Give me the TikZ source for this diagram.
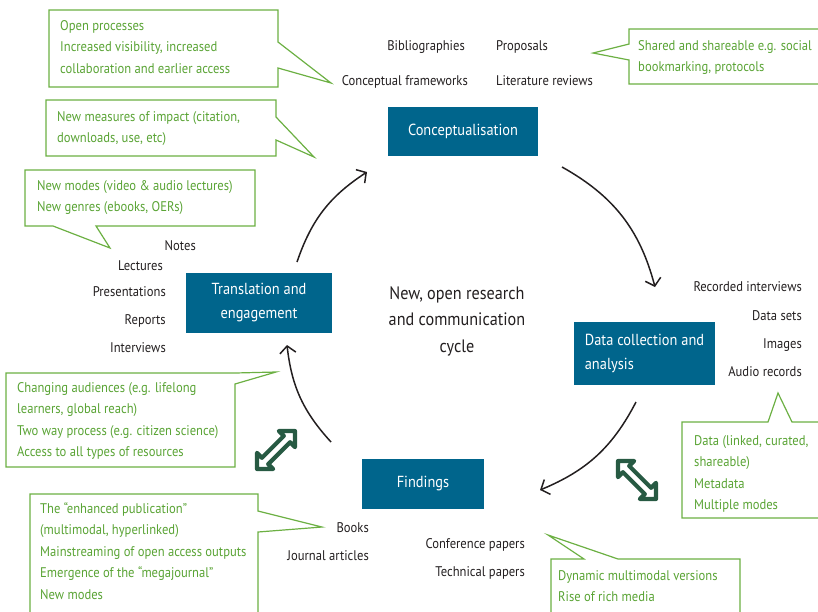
\documentclass[tikz,border=0pt]{standalone}
\usepackage{fontspec}
\setmainfont{PT Sans}[FakeStretch=0.9]
\usetikzlibrary{arrows.meta}
\definecolor{boxblue}{HTML}{00658C}
\definecolor{callgreen}{HTML}{6CB043}
\definecolor{textgreen}{HTML}{5AA435}
\definecolor{labelgray}{HTML}{231F20}
\definecolor{icongreen}{HTML}{275A43}
\tikzset{
  stage/.style={fill=boxblue, text=white, font=\fontsize{16}{24}\selectfont, align=center, inner sep=0pt},
  item/.style={text=labelgray, font=\fontsize{14}{17}\selectfont, inner sep=0pt},
  callout/.style={draw=callgreen, line width=1.2pt, fill=white},
  note/.style={text=textgreen, font=\fontsize{14}{21.5}\selectfont, align=left, inner sep=0pt, anchor=base west},
  cycle arrow/.style={-{Straight Barb[length=7pt,width=16pt]}, line width=1.5pt, labelgray},
  swap arrow/.style={draw=icongreen, fill=white, line width=4.2pt, line join=round}
}
\begin{document}
\begin{tikzpicture}[x=1pt, y=-1pt]
  \clip (0,0) rectangle (818,611);
  % Stufen des Zyklus
  \node[stage, minimum width=150pt, minimum height=49pt] (concept) at (463,131.5) {Conceptualisation};
  \node[stage, minimum width=141pt, minimum height=63pt, align=left] (data) at (644.5,353.5) {Data collection and\\analysis};
  \node[stage, minimum width=122pt, minimum height=50pt] (findings) at (423,484) {Findings};
  \node[stage, minimum width=146pt, minimum height=60pt] (trans) at (259,303) {Translation and\\engagement};
  \node[text=labelgray, font=\fontsize{18}{26.5}\selectfont, align=center] (cyclelabel) at (457,321) {New, open research\\and communication\\cycle};
  % Pfeile im Kreis
  \coordinate (trans out) at (297,262);
  \coordinate (concept in) at (367,172);
  \coordinate (concept out) at (562,167);
  \coordinate (data in) at (655,287);
  \coordinate (data out) at (636,402);
  \coordinate (findings in) at (540,490);
  \coordinate (findings out) at (331,442);
  \coordinate (trans in) at (287,345);
  \draw[cycle arrow] (trans out) to[bend left=19] (concept in);
  \draw[cycle arrow] (concept out) to[bend left=23] (data in);
  \draw[cycle arrow] (data out) to[bend left=20] (findings in);
  \draw[cycle arrow] (findings out) to[bend left=18] (trans in);
  % Ergebnisse an den Stufen
  \node[item, anchor=base east] (biblio) at (465,50) {Bibliographies};
  \node[item, anchor=base west] (proposals) at (496,50) {Proposals};
  \node[item, anchor=base east] (frameworks) at (468,85) {Conceptual frameworks};
  \node[item, anchor=base west] (reviews) at (496,85) {Literature reviews};
  \node[item, anchor=base east] (notes) at (196,250) {Notes};
  \node[item, anchor=base east] (lectures) at (163,270) {Lectures};
  \node[item, anchor=base east] (presentations) at (166,296) {Presentations};
  \node[item, anchor=base east] (reports) at (166,324) {Reports};
  \node[item, anchor=base east] (interviews) at (166,352) {Interviews};
  \node[item, anchor=base east] (recorded) at (802,291) {Recorded interviews};
  \node[item, anchor=base east] (datasets) at (802,320) {Data sets};
  \node[item, anchor=base east] (images) at (802,348) {Images};
  \node[item, anchor=base east] (audio) at (802,376) {Audio records};
  \node[item, anchor=base east] (books) at (369,532) {Books};
  \node[item, anchor=base east] (journals) at (369,560) {Journal articles};
  \node[item, anchor=base east] (conference) at (525,548) {Conference papers};
  \node[item, anchor=base east] (technical) at (525,576) {Technical papers};
  % Sprechblasen (Anker auf der letzten Zeile)
  \draw[callout] (49,10) -- (278,10) -- (278,42) -- (331,83) -- (278,68) -- (278,87) -- (49,87) -- cycle;
  \node[note] (openproc) at (60,73) {Open processes\\Increased visibility, increased\\collaboration and earlier access};
  \draw[callout] (46,100) -- (276,100) -- (276,117) -- (314,157) -- (276,140) -- (276,156) -- (46,156) -- cycle;
  \node[note] (impact) at (57,142.5) {New measures of impact (citation,\\downloads, use, etc)};
  \draw[callout] (629,29) -- (822,29) -- (822,84) -- (629,84) -- (629,60) -- (593,53) -- (629,44) -- cycle;
  \node[note] (shared) at (638,71.5) {Shared and shareable e.g. social\\bookmarking, protocols};
  \draw[callout] (25,170) -- (255,170) -- (255,226) -- (96,226) -- (110,248) -- (53,226) -- (25,226) -- cycle;
  \node[note] (modes) at (37,211.5) {New modes (video \& audio lectures)\\New genres (ebooks, OERs)};
  \draw[callout] (6,373) -- (235,373) -- (276,372) -- (235,384) -- (235,467) -- (6,467) -- cycle;
  \node[note] (audiences) at (17,456.5) {Changing audiences (e.g. lifelong\\learners, global reach)\\Two way process (e.g. citizen science)\\Access to all types of resources};
  \draw[callout] (682,422) -- (768,422) -- (778,393) -- (792,422) -- (822,422) -- (822,518) -- (682,518) -- cycle;
  \node[note] (linked) at (694,509.5) {Data (linked, curated,\\shareable)\\Metadata\\Multiple modes};
  \draw[callout] (30,494) -- (258,494) -- (258,511) -- (322,527) -- (258,532) -- (258,620) -- (30,620) -- cycle;
  \node[note] (enhanced) at (40,599) {The “enhanced publication”\\(multimodal, hyperlinked)\\Mainstreaming of open access outputs\\Emergence of the “megajournal”\\New modes};
  \draw[callout] (551,559) -- (584,559) -- (548,535) -- (618,559) -- (740,559) -- (740,620) -- (551,620) -- cycle;
  \node[note] (dynamic) at (558,601.5) {Dynamic multimodal versions\\Rise of rich media};
  % Doppelpfeile
  \begin{scope}[shift={(276,450)}, x=19pt, y=19pt]
    \draw[swap arrow] (1,1) -- (0.15,1) -- (0.41,0.74) -- (-0.74,-0.41) -- (-1,-0.15) -- (-1,-1) -- (-0.15,-1) -- (-0.41,-0.74) -- (0.74,0.41) -- (1,0.15) -- cycle;
  \end{scope}
  \begin{scope}[shift={(637,480)}, x=19pt, y=-19pt]
    \draw[swap arrow] (1,1) -- (0.15,1) -- (0.41,0.74) -- (-0.74,-0.41) -- (-1,-0.15) -- (-1,-1) -- (-0.15,-1) -- (-0.41,-0.74) -- (0.74,0.41) -- (1,0.15) -- cycle;
  \end{scope}
\end{tikzpicture}
\end{document}
